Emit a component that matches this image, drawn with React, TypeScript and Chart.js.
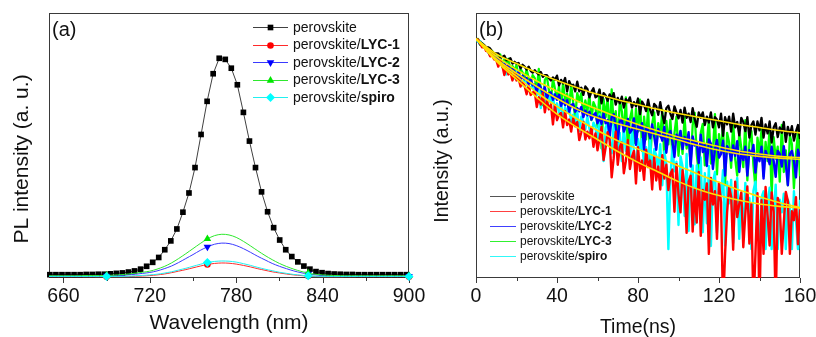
import React, { useEffect, useRef } from 'react';
import { Chart, registerables } from 'chart.js';
import { drawPoint } from 'chart.js/helpers';

Chart.register(...registerables);

const FONT = 'Arial, "Liberation Sans", Helvetica, sans-serif';
const INK = '#111111';
const FRAME = '#3a3a3a';

// ---------- Panel (a): PL spectra ----------
const WL_PEROVSKITE = [650.6,654.8,659.0,663.2,667.4,671.6,675.8,680.0,684.2,688.4,692.6,696.8,701.0,705.2,709.4,713.6,717.8,722.0,726.2,730.4,734.6,738.8,743.0,747.2,751.4,755.6,759.8,764.0,768.2,772.4,776.6,780.8,785.0,789.2,793.4,797.6,801.8,806.0,810.2,814.4,818.6,822.8,827.0,831.2,835.4,839.6,843.8,848.0,852.2,856.4,860.6,864.8,869.0,873.2,877.4,881.6,885.8,890.0,894.2,898.4];
const PL_PEROVSKITE = [0.015,0.015,0.015,0.015,0.015,0.015,0.016,0.016,0.017,0.017,
  0.019,0.021,0.023,0.027,0.032,0.040,0.053,0.071,0.093,0.128,
  0.168,0.222,0.298,0.385,0.500,0.650,0.800,0.925,0.995,0.990,
  0.950,0.875,0.750,0.620,0.500,0.390,0.300,0.228,0.172,0.128,
  0.097,0.073,0.054,0.040,0.029,0.024,0.020,0.018,0.017,0.016,
  0.016,0.015,0.015,0.015,0.015,0.015,0.015,0.015,0.015,0.015];
const WL_FINE = [650,655,660,665,670,675,680,685,690,695,700,705,710,715,720,725,730,735,740,745,750,755,760,765,770,775,780,785,790,795,800,805,810,815,820,825,830,835,840,845,850,855,860,865,870,875,880,885,890,895,900];
const PL_LYC1 = [0.006,0.006,0.006,0.006,0.006,0.006,0.006,0.006,0.006,0.006,
  0.006,0.006,0.008,0.009,0.011,0.014,0.018,0.024,0.031,0.038,
  0.046,0.054,0.061,0.066,0.068,0.067,0.063,0.057,0.050,0.042,
  0.035,0.028,0.023,0.018,0.014,0.011,0.009,0.007,0.006,0.006,
  0.006,0.006,0.006,0.006,0.006,0.006,0.006,0.006,0.006,0.006,0.006];
const PL_LYC2 = [0.008,0.008,0.008,0.008,0.008,0.008,0.008,0.008,0.009,0.010,
  0.012,0.014,0.017,0.021,0.025,0.032,0.042,0.054,0.070,0.088,
  0.106,0.125,0.141,0.153,0.158,0.156,0.147,0.133,0.116,0.098,
  0.082,0.066,0.053,0.042,0.032,0.024,0.018,0.014,0.011,0.009,
  0.008,0.008,0.008,0.008,0.008,0.008,0.008,0.008,0.008,0.008,0.008];
const PL_LYC3 = [0.010,0.010,0.010,0.010,0.010,0.011,0.011,0.011,0.012,0.013,
  0.015,0.018,0.022,0.026,0.031,0.040,0.052,0.068,0.088,0.110,
  0.133,0.156,0.177,0.192,0.198,0.195,0.184,0.166,0.145,0.123,
  0.102,0.083,0.066,0.052,0.040,0.030,0.022,0.017,0.014,0.012,
  0.011,0.010,0.010,0.010,0.010,0.010,0.010,0.010,0.010,0.010,0.010];
const PL_SPIRO = [0.007,0.007,0.007,0.007,0.007,0.007,0.007,0.007,0.007,0.007,
  0.007,0.008,0.010,0.012,0.014,0.017,0.022,0.028,0.036,0.044,
  0.053,0.062,0.070,0.075,0.077,0.076,0.072,0.065,0.057,0.048,
  0.040,0.033,0.026,0.021,0.016,0.013,0.010,0.008,0.007,0.007,
  0.007,0.007,0.007,0.007,0.007,0.007,0.007,0.007,0.007,0.007,0.007];
const PL_MARKER_WL = [690, 760, 830, 900];
const PL_X_MAJOR = [660, 720, 780, 840, 900];
const PL_X_MINOR = [690, 750, 810, 870];

// ---------- Panel (b): TRPL decays (log10 of counts) ----------
const TIME_NS = [0,1,2,3,4,5,6,7,8,9,10,11,12,13,14,15,16,17,18,19,20,21,22,23,24,25,26,27,28,29,30,31,32,33,34,35,36,37,38,39,40,41,42,43,44,45,46,47,48,49,50,51,52,53,54,55,56,57,58,59,60,61,62,63,64,65,66,67,68,69,70,71,72,73,74,75,76,77,78,79,80,81,82,83,84,85,86,87,88,89,90,91,92,93,94,95,96,97,98,99,100,101,102,103,104,105,106,107,108,109,110,111,112,113,114,115,116,117,118,119,120,121,122,123,124,125,126,127,128,129,130,131,132,133,134,135,136,137,138,139,140,141,142,143,144,145,146,147,148,149,150,151,152,153,154,155,156,157,158,159,160];
const LOG_PEROVSKITE = [3.97,3.94,3.93,3.89,3.87,3.83,3.83,3.81,3.76,3.73,
  3.73,3.73,3.66,3.67,3.69,3.62,3.62,3.65,3.56,3.59,
  3.56,3.57,3.48,3.54,3.51,3.46,3.51,3.44,3.41,3.45,
  3.41,3.38,3.42,3.34,3.37,3.37,3.32,3.28,3.33,3.29,
  3.36,3.20,3.29,3.23,3.32,3.10,3.27,3.19,3.21,3.10,
  3.26,3.10,3.16,3.04,3.18,3.14,3.00,3.09,3.15,3.00,
  3.02,3.13,2.90,3.07,3.03,2.94,3.05,2.97,3.07,2.88,
  2.99,2.90,3.01,2.83,2.97,2.92,3.00,2.83,2.92,2.85,
  2.98,2.72,2.93,2.87,2.77,2.96,2.79,2.70,2.89,2.85,
  2.71,2.92,2.72,2.57,2.82,2.86,2.73,2.64,2.85,2.75,
  2.65,2.79,2.58,2.83,2.66,2.73,2.59,2.82,2.64,2.51,
  2.75,2.66,2.75,2.54,2.68,2.58,2.75,2.50,2.67,2.63,
  2.50,2.73,2.36,2.67,2.55,2.68,2.43,2.73,2.50,2.59,
  2.37,2.66,2.59,2.44,2.67,2.33,2.54,2.60,2.38,2.60,
  2.45,2.66,2.33,2.55,2.40,2.60,2.25,2.50,2.57,2.34,
  2.50,2.41,2.59,2.26,2.51,2.37,2.52,2.28,2.43,2.54,2.31];
const LOG_LYC1 = [3.95,3.96,3.90,3.83,3.84,3.77,3.76,3.68,3.70,3.63,
  3.62,3.51,3.60,3.53,3.37,3.51,3.38,3.42,3.28,3.41,
  3.28,3.32,3.18,3.25,3.19,3.05,3.19,3.04,3.08,3.09,
  2.84,3.00,2.88,3.07,2.75,2.95,2.80,2.88,2.55,2.87,
  2.62,2.71,2.74,2.50,2.77,2.54,2.63,2.43,2.65,2.52,
  2.59,2.29,2.42,2.59,2.30,2.43,2.32,2.50,2.18,2.40,
  2.12,2.31,2.51,1.96,2.16,2.42,2.30,1.67,1.99,2.43,
  1.88,2.17,2.25,1.74,1.94,2.29,1.81,2.01,2.11,1.57,
  2.17,1.78,1.95,1.63,2.13,1.84,1.95,1.47,2.01,1.62,
  1.85,1.47,2.04,1.65,1.88,1.46,1.73,1.80,1.10,1.89,
  1.39,1.09,1.79,1.50,0.75,1.60,1.70,0.77,1.47,0.92,
  1.76,0.70,1.46,1.30,1.57,0.40,1.66,1.22,1.44,0.65,
  1.58,1.26,-0.5,0.40,1.09,1.51,1.35,0.47,1.60,1.01,
  1.23,1.42,0.51,1.06,1.52,0.57,1.23,-0.5,0.40,1.41,
  -0.5,1.29,0.40,1.51,1.04,0.54,1.42,1.10,-0.5,1.33,
  1.20,0.40,0.92,1.43,1.28,0.40,1.11,0.96,1.34,0.56,1.14];
const LOG_LYC2 = [3.96,3.95,3.88,3.89,3.83,3.81,3.76,3.76,3.70,3.65,
  3.67,3.62,3.63,3.52,3.56,3.50,3.54,3.42,3.47,3.43,
  3.37,3.42,3.28,3.36,3.30,3.32,3.22,3.30,3.20,3.21,
  3.09,3.22,3.16,3.07,3.17,2.98,3.07,3.08,2.96,3.05,
  2.96,3.04,2.86,2.96,2.87,2.95,2.76,2.87,2.89,2.76,
  2.82,2.77,2.84,2.67,2.78,2.70,2.76,2.63,2.70,2.74,
  2.57,2.68,2.56,2.73,2.57,2.62,2.34,2.67,2.72,2.51,
  2.27,2.60,2.63,2.43,2.52,2.64,2.41,2.46,2.65,2.21,
  2.54,2.45,2.57,2.13,2.51,2.46,2.32,2.55,2.35,2.13,
  2.47,2.38,2.28,2.51,2.08,2.38,2.44,2.26,2.01,2.38,
  2.29,2.44,2.14,2.34,2.21,2.42,1.85,2.35,2.20,2.26,
  1.91,2.38,2.09,2.22,1.86,2.30,2.23,1.81,2.15,2.29,
  2.00,2.06,2.28,1.70,2.19,2.13,1.95,2.20,2.03,2.27,
  1.76,2.11,1.96,2.18,1.70,2.12,2.04,2.21,1.75,2.06,
  1.94,2.18,1.65,2.11,2.02,1.89,2.18,1.94,1.68,2.11,
  2.06,1.85,2.19,1.89,1.54,2.06,2.11,1.94,1.67,2.13,2.00];
const LOG_LYC3 = [3.96,3.97,3.87,3.90,3.86,3.80,3.81,3.76,3.77,3.68,
  3.71,3.61,3.71,3.50,3.63,3.57,3.64,3.45,3.52,3.44,
  3.54,3.32,3.47,3.41,3.32,3.46,3.32,3.23,3.37,3.32,
  3.12,3.47,3.13,2.87,3.29,3.34,3.12,2.95,3.31,3.14,
  2.97,3.19,2.83,3.25,2.95,3.06,2.83,3.21,2.91,2.67,
  3.07,2.93,3.07,2.70,2.95,2.76,3.05,2.62,2.92,2.84,
  2.51,3.12,2.15,2.97,2.67,2.99,2.35,3.13,2.53,2.77,
  2.21,2.95,2.77,2.38,3.00,2.11,2.64,2.79,2.24,2.81,
  2.43,2.96,2.11,2.68,2.30,2.83,1.90,2.56,2.75,2.16,
  2.57,2.35,2.79,1.95,2.61,2.22,2.63,2.00,2.40,2.68,
  2.03,2.44,2.06,2.68,2.15,2.35,1.88,2.54,2.74,2.06,
  1.74,2.41,2.56,1.87,2.23,2.64,1.90,2.10,2.72,1.72,
  2.39,2.12,2.53,1.54,2.41,2.25,1.83,2.60,1.97,1.70,
  2.42,2.16,1.84,2.62,1.62,2.24,2.44,1.87,1.50,2.33,
  2.06,2.47,1.69,2.26,1.94,2.51,1.36,2.34,1.98,2.18,
  1.60,2.54,1.76,2.12,1.54,2.37,2.22,1.49,2.06,2.42,1.69];
const LOG_SPIRO = [3.97,3.92,3.93,3.84,3.84,3.82,3.75,3.69,3.71,3.66,
  3.68,3.54,3.60,3.52,3.58,3.38,3.51,3.42,3.43,3.31,
  3.43,3.28,3.31,3.20,3.30,3.25,3.11,3.17,3.20,3.06,
  3.04,3.19,2.82,3.09,3.02,2.86,3.03,2.89,3.05,2.74,
  2.90,2.75,2.91,2.62,2.83,2.75,2.86,2.58,2.71,2.60,
  2.76,2.44,2.68,2.60,2.47,2.68,2.48,2.36,2.58,2.51,
  2.25,2.72,2.27,1.94,2.50,2.57,2.29,2.07,2.54,2.33,
  2.11,2.41,1.94,2.50,2.11,2.27,1.97,2.47,2.08,1.78,
  2.31,2.13,2.31,1.84,2.17,1.93,2.31,1.76,2.14,2.04,
  1.80,2.22,1.54,2.10,1.89,0.48,1.66,2.19,1.77,1.93,
  0.88,2.02,1.85,1.03,2.06,0.78,1.72,1.87,0.89,1.87,
  1.51,2.00,0.76,1.74,0.91,1.86,0.53,1.59,1.76,0.75,
  1.58,1.37,1.79,0.54,1.60,1.24,1.63,0.58,1.40,1.66,
  0.65,1.41,0.67,1.58,1.18,1.33,0.48,1.45,1.60,1.08,
  0.48,1.34,1.44,0.48,1.19,1.50,0.48,1.09,1.55,0.48,
  1.30,1.09,1.40,0.48,1.30,1.19,0.48,1.44,0.96,0.48,1.30];
const FIT_TIME = [0,10,20,30,40,50,60,70,80,90,100,110,120,130,140,150,160];
const FIT_PEROVSKITE = [3.97,3.72,3.56,3.41,3.28,3.16,3.05,2.96,2.88,2.80,2.73,2.67,2.61,2.55,2.50,2.45,2.41];
const FIT_LYC1 = [3.97,3.60,3.30,3.00,2.72,2.50,2.30,2.10,1.92,1.76,1.60,1.47,1.37,1.29,1.23,1.19,1.16];
const FIT_LYC2 = [3.97,3.64,3.40,3.18,2.98,2.80,2.66,2.56,2.47,2.38,2.29,2.20,2.12,2.06,2.02,1.99,1.97];
const FIT_LYC3 = [3.97,3.68,3.46,3.27,3.10,2.94,2.80,2.67,2.55,2.44,2.34,2.26,2.18,2.11,2.06,2.02,2.00];
const FIT_SPIRO = [3.97,3.62,3.35,3.08,2.85,2.64,2.45,2.28,2.14,2.00,1.86,1.72,1.59,1.46,1.35,1.25,1.17];
const TR_X_MAJOR = [0, 40, 80, 120, 160];
const TR_X_MINOR = [20, 60, 100, 140];

const SERIES_BASE = ['perovskite', 'perovskite/', 'perovskite/', 'perovskite/', 'perovskite/'];
const SERIES_BOLD = ['', 'LYC-1', 'LYC-2', 'LYC-3', 'spiro'];

// styles
const COL = ['#000000', '#ff0000', '#0000ff', '#00e600', '#00ffff'];
const LINE_A = ['#404040', '#ff2a2a', '#3a3aff', '#2ee82e', '#20f0f0'];
const MARK_STYLE = ['rect', 'circle', 'triangle', 'triangle', 'rectRot'];
const MARK_ROT = [0, 0, 180, 0, 0];
const MARK_R = [4.0, 3.3, 4.4, 4.4, 4.5];
const COL_B = ['#000000', '#ff0000', '#0000ff', '#00ff00', '#00ffff'];
const WIDTH_B = [2.3, 2.4, 2.4, 2.3, 2.4];
const FIT_COLOR = '#ffe000';

type Decor = {
  major: number[]; minor: number[];
  tag: string; tagX: number; tagY: number;
  yTitle: string; yTitleX: number; yTitleY: number; yTitleFont: number;
  legX0: number; legX1: number; legTextX: number; legY0: number; legDy: number; legFont: number;
  legColors: string[]; legMarkers: boolean;
};

function makeDecor(o: Decor) {
  return {
    id: 'decor',
    beforeDatasetsDraw(chart: any) {
      const { ctx, chartArea: a, scales } = chart;
      ctx.save();
      ctx.strokeStyle = FRAME;
      ctx.lineWidth = 1;
      ctx.strokeRect(a.left + 0.5, a.top + 0.5, a.right - a.left - 1, a.bottom - a.top - 1);
      ctx.beginPath();
      o.major.forEach((v) => {
        const px = Math.round(scales.x.getPixelForValue(v)) + 0.5;
        ctx.moveTo(px, a.bottom);
        ctx.lineTo(px, a.bottom + 5);
      });
      o.minor.forEach((v) => {
        const px = Math.round(scales.x.getPixelForValue(v)) + 0.5;
        ctx.moveTo(px, a.bottom);
        ctx.lineTo(px, a.bottom + 3);
      });
      ctx.stroke();
      ctx.restore();
    },
    afterDraw(chart: any) {
      const ctx = chart.ctx;
      ctx.save();
      ctx.textBaseline = 'middle';
      ctx.textAlign = 'left';
      for (let i = 0; i < SERIES_BASE.length; i++) {
        const y = o.legY0 + i * o.legDy;
        ctx.strokeStyle = o.legColors[i];
        ctx.lineWidth = 1;
        ctx.beginPath();
        ctx.moveTo(o.legX0, Math.round(y) + 0.5);
        ctx.lineTo(o.legX1, Math.round(y) + 0.5);
        ctx.stroke();
        if (o.legMarkers) {
          ctx.fillStyle = COL[i];
          drawPoint(ctx, { pointStyle: MARK_STYLE[i], radius: MARK_R[i], rotation: MARK_ROT[i], borderWidth: 0 } as any, (o.legX0 + o.legX1) / 2, Math.round(y) + 0.5);
        }
        ctx.fillStyle = INK;
        ctx.font = `${o.legFont}px ${FONT}`;
        ctx.fillText(SERIES_BASE[i], o.legTextX, y + 0.5);
        const w = ctx.measureText(SERIES_BASE[i]).width;
        if (SERIES_BOLD[i]) {
          ctx.font = `bold ${o.legFont}px ${FONT}`;
          ctx.fillText(SERIES_BOLD[i], o.legTextX + w, y + 0.5);
        }
      }
      ctx.fillStyle = INK;
      ctx.font = `20px ${FONT}`;
      ctx.fillText(o.tag, o.tagX, o.tagY);
      ctx.translate(o.yTitleX, o.yTitleY);
      ctx.rotate(-Math.PI / 2);
      ctx.textAlign = 'center';
      ctx.font = `${o.yTitleFont}px ${FONT}`;
      ctx.fillText(o.yTitle, 0, 0);
      ctx.restore();
    },
  };
}

function configA(): any {
  const plData = [PL_LYC1, PL_LYC2, PL_LYC3, PL_SPIRO];
  const orders = [3, 2, 1, 0];
  const datasets: any[] = [
    {
      label: SERIES_BASE[0] + SERIES_BOLD[0],
      data: WL_PEROVSKITE.map((x, i) => ({ x, y: PL_PEROVSKITE[i] })),
      borderColor: LINE_A[0], borderWidth: 1, tension: 0,
      pointStyle: 'rect', pointRadius: MARK_R[0], pointBackgroundColor: COL[0], pointBorderWidth: 0,
      order: 4, clip: false,
    },
  ];
  plData.forEach((arr, k) => {
    const i = k + 1;
    datasets.push({
      label: SERIES_BASE[i] + SERIES_BOLD[i],
      data: WL_FINE.map((x, j) => ({ x, y: arr[j] })),
      borderColor: LINE_A[i], borderWidth: 1, tension: 0.3,
      pointStyle: MARK_STYLE[i], pointRotation: MARK_ROT[i],
      pointRadius: (c: any) => (PL_MARKER_WL.includes(WL_FINE[c.dataIndex]) ? MARK_R[i] : 0),
      pointBackgroundColor: COL[i], pointBorderWidth: 0,
      order: orders[k], clip: false,
    });
  });
  return {
    type: 'line',
    data: { datasets },
    options: {
      responsive: false, animation: false, events: [],
      layout: { padding: { left: 0, right: 27, top: 13, bottom: 0 } },
      plugins: { legend: { display: false }, tooltip: { enabled: false } },
      scales: {
        x: {
          type: 'linear', min: 650, max: 900,
          afterFit: (s: any) => { s.height = 59; s.paddingLeft = 0; s.paddingRight = 0; },
          grid: { display: false, drawTicks: true, tickLength: 5 },
          border: { display: false },
          ticks: { stepSize: 60, includeBounds: false, autoSkip: false, maxRotation: 0, padding: 2, color: INK, font: { family: FONT, size: 19.5 } },
          title: { display: true, text: 'Wavelength (nm)', color: INK, font: { family: FONT, size: 21, lineHeight: 1.2 }, padding: { top: 0, bottom: 1 } },
        },
        y: {
          type: 'linear', min: 0, max: 1.2,
          afterFit: (s: any) => { s.width = 49; },
          grid: { display: false, drawTicks: false },
          border: { display: false },
          ticks: { display: false },
        },
      },
    },
    plugins: [makeDecor({
      major: PL_X_MAJOR, minor: PL_X_MINOR,
      tag: '(a)', tagX: 52, tagY: 30,
      yTitle: 'PL intensity (a. u.)', yTitleX: 22, yTitleY: 159, yTitleFont: 21,
      legX0: 253, legX1: 288, legTextX: 293, legY0: 27.3, legDy: 17.5, legFont: 14,
      legColors: LINE_A, legMarkers: true,
    })],
  };
}

function configB(): any {
  const logs = [LOG_PEROVSKITE, LOG_LYC1, LOG_LYC2, LOG_LYC3, LOG_SPIRO];
  const fits = [FIT_PEROVSKITE, FIT_LYC1, FIT_LYC2, FIT_LYC3, FIT_SPIRO];
  const orders = [4, 1, 2, 5, 3];
  const datasets: any[] = [];
  logs.forEach((arr, i) => {
    datasets.push({
      label: SERIES_BASE[i] + SERIES_BOLD[i],
      data: TIME_NS.map((x, j) => ({ x, y: Math.pow(10, arr[j]) })),
      borderColor: COL_B[i], borderWidth: WIDTH_B[i], pointRadius: 0, tension: 0,
      borderJoinStyle: 'round',
      order: orders[i] + 1,
    });
  });
  fits.forEach((arr, i) => {
    datasets.push({
      label: 'fit ' + i,
      data: FIT_TIME.map((x, j) => ({ x, y: Math.pow(10, arr[j]) })),
      borderColor: FIT_COLOR, borderWidth: 1.6, pointRadius: 0,
      cubicInterpolationMode: 'monotone',
      order: 0,
    });
  });
  return {
    type: 'line',
    data: { datasets },
    options: {
      responsive: false, animation: false, events: [],
      layout: { padding: { left: 0, right: 16, top: 13, bottom: 0 } },
      plugins: { legend: { display: false }, tooltip: { enabled: false } },
      scales: {
        x: {
          type: 'linear', min: 0, max: 160,
          afterFit: (s: any) => { s.height = 59; s.paddingLeft = 0; s.paddingRight = 0; },
          grid: { display: false, drawTicks: true, tickLength: 5 },
          border: { display: false },
          ticks: { stepSize: 40, autoSkip: false, maxRotation: 0, padding: 2, color: INK, font: { family: FONT, size: 19.5 } },
          title: { display: true, text: 'Time(ns)', color: INK, font: { family: FONT, size: 19.5, lineHeight: 1 }, padding: { top: 0, bottom: 0 } },
        },
        y: {
          type: 'logarithmic', min: 1, max: Math.pow(10, 4.4),
          afterFit: (s: any) => { s.width = 56; },
          grid: { display: false, drawTicks: false },
          border: { display: false },
          ticks: { display: false },
        },
      },
    },
    plugins: [makeDecor({
      major: TR_X_MAJOR, minor: TR_X_MINOR,
      tag: '(b)', tagX: 59, tagY: 30,
      yTitle: 'Intensity (a.u.)', yTitleX: 22.5, yTitleY: 161, yTitleFont: 19.5,
      legX0: 70, legX1: 96, legTextX: 100, legY0: 196, legDy: 15, legFont: 12,
      legColors: ['#555555', '#ff4040', '#4040ff', '#30f030', '#30f8f8'], legMarkers: false,
    })],
  };
}

export default function App() {
  const refA = useRef<HTMLCanvasElement>(null);
  const refB = useRef<HTMLCanvasElement>(null);
  useEffect(() => {
    document.body.style.margin = '0';
    const a = new Chart(refA.current as HTMLCanvasElement, configA());
    const b = new Chart(refB.current as HTMLCanvasElement, configB());
    return () => { a.destroy(); b.destroy(); };
  }, []);
  return (
    <div style={{ position: 'absolute', left: 0, top: 0, width: 816, height: 337, overflow: 'hidden', background: '#ffffff' }}>
      <canvas ref={refB} width={396} height={337} style={{ position: 'absolute', left: 420, top: 0, width: 396, height: 337 }} />
      <canvas ref={refA} width={436} height={337} style={{ position: 'absolute', left: 0, top: 0, width: 436, height: 337 }} />
    </div>
  );
}
